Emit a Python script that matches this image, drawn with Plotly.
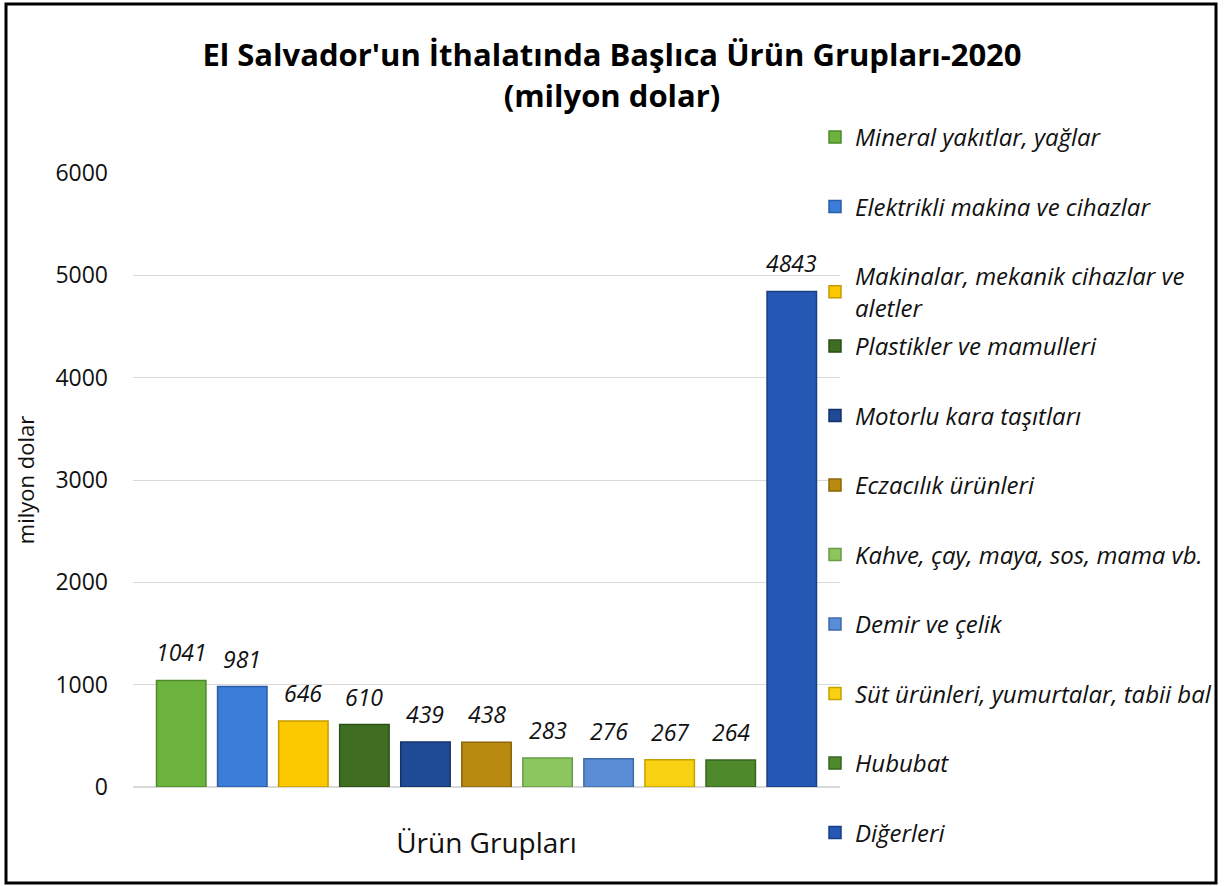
import plotly.graph_objects as go

categories = [
    "Mineral yakıtlar, yağlar",
    "Elektrikli makina ve cihazlar",
    "Makinalar, mekanik cihazlar ve<br>aletler",
    "Plastikler ve mamulleri",
    "Motorlu kara taşıtları",
    "Eczacılık ürünleri",
    "Kahve, çay, maya, sos, mama vb.",
    "Demir ve çelik",
    "Süt ürünleri, yumurtalar, tabii bal",
    "Hububat",
    "Diğerleri",
]
values = [1041, 981, 646, 610, 439, 438, 283, 276, 267, 264, 4843]
colors = ["#6CB33E", "#3B7DD8", "#FCC900", "#3F6E22", "#1F4A96",
          "#B98A10", "#8CC65E", "#5A8DD6", "#F8D212", "#4E8A2C", "#2558B4"]
edges = ["#4E8A2A", "#2A5EA8", "#C89A00", "#2B4F16", "#14326A",
         "#8A650A", "#6A9C45", "#3F6AA8", "#C4A200", "#376520", "#183E82"]
group_label = "Ürün Grupları"
y_ticks = [0, 1000, 2000, 3000, 4000, 5000, 6000]

FONT = "Open Sans"
fig = go.Figure()
annotations = []
for i, (name, v) in enumerate(zip(categories, values)):
    fig.add_trace(go.Bar(
        x=[i], y=[v], name=name,
        marker=dict(color=colors[i], line=dict(color=edges[i], width=1.5)),
        legendgroup=f"g{i}",
        legend="legend" if i < 3 else "legend2",
    ))
    annotations.append(dict(
        x=i, y=v, xref="x", yref="y", text=str(v), showarrow=False,
        yanchor="bottom", yshift=10,
        font=dict(family=FONT, size=23, color="#111", style="italic"),
    ))

W, H = 1224, 886
L, R, T, B = 133, 840, 173, 787
pw, ph = R - L, B - T

def px(x):
    return (x - L) / pw

def py(y):
    return (B - y) / ph

legend_common = dict(
    font=dict(family=FONT, size=24, color="#111", style="italic"),
    bgcolor="rgba(0,0,0,0)", tracegroupgap=35.3, xanchor="left", yanchor="top",
    itemclick=False, itemdoubleclick=False,
)

n = len(values)
pad = 0.29
fig.update_layout(
    width=W, height=H,
    margin=dict(l=L, r=W - R, t=T, b=H - B, autoexpand=False),
    paper_bgcolor="white", plot_bgcolor="white",
    barmode="overlay", bargap=0.19,
    showlegend=True,
    title=dict(
        text="El Salvador'un İthalatında Başlıca Ürün Grupları-2020<br>(milyon dolar)",
        x=0.5, xanchor="center", y=0.925, yanchor="top",
        font=dict(family=FONT, size=31, color="#000", weight="bold"),
    ),
    legend=dict(x=px(815), y=py(115), **legend_common),
    legend2=dict(x=px(815), y=py(324), **legend_common),
    xaxis=dict(
        range=[-0.5 - pad, n - 0.5 + pad],
        showticklabels=False, showgrid=False, zeroline=False, showline=False,
        title=dict(text=group_label, font=dict(family=FONT, size=28, color="#111"), standoff=46),
    ),
    yaxis=dict(
        range=[0, 6000], tickvals=y_ticks, showgrid=True, gridcolor="#D9D9D9", gridwidth=1,
        zeroline=True, zerolinecolor="#D9D9D9", showline=False,
        tickfont=dict(family=FONT, size=23, color="#111"), ticklen=0, ticks="",
        ticklabelstandoff=24,
        title=dict(text="milyon dolar", font=dict(family=FONT, size=22, color="#111"), standoff=14),
    ),
    annotations=annotations,
    shapes=[dict(type="rect", xref="paper", yref="paper",
                 x0=px(6), x1=px(1216), y0=py(883), y1=py(4),
                 line=dict(color="#000", width=3), fillcolor="rgba(0,0,0,0)", layer="above")],
)

fig.write_html("out.html", config={"displayModeBar": False},
               post_script="document.body.style.margin='0';")
